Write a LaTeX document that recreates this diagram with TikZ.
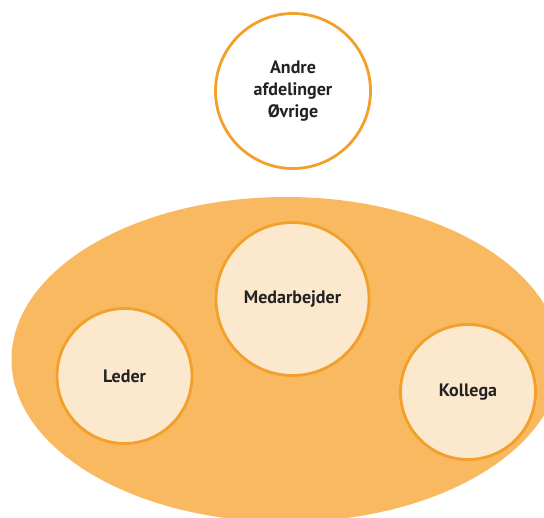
\documentclass[tikz,border=0pt]{standalone}
\usepackage{fontspec}
\setmainfont{PT Sans}
\definecolor{ellfill}{HTML}{F9B961}
\definecolor{circfill}{HTML}{FCE8CC}
\definecolor{circline}{HTML}{F2A02A}
\definecolor{txt}{HTML}{222222}
\begin{document}
\begin{tikzpicture}[x=1bp,y=-1bp,
  bubble/.style={circle,draw=circline,line width=2.8bp,fill=circfill,minimum size=#1,inner sep=0pt,
    font=\bfseries\fontsize{18bp}{22bp}\selectfont,text=txt,align=center},
  topbubble/.style={circle,draw=circline,line width=2.8bp,fill=white,minimum size=#1,inner sep=0pt,
    font=\bfseries\fontsize{18bp}{22bp}\selectfont,text=txt,align=center}]
\useasboundingbox (0,0) rectangle (544,518);
\clip (0,0) rectangle (544,518);
\fill[ellfill] (286,359.5) ellipse [x radius=274.5, y radius=162.5];
\node[topbubble=155bp] (andre) at (293,91) {Andre\\afdelinger\\Øvrige};
\node[bubble=153bp] (medarb) at (292.5,299) {Medarbejder};
\node[bubble=135bp] (leder) at (124.5,376) {Leder};
\node[bubble=135bp] (kollega) at (468,392) {Kollega};
\end{tikzpicture}
\end{document}
